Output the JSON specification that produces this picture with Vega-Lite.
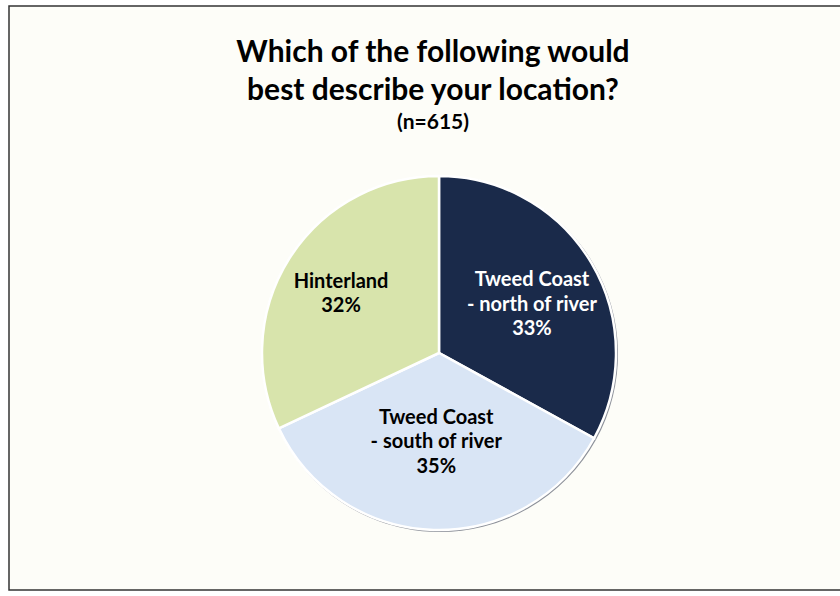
{
  "$schema": "https://vega.github.io/schema/vega-lite/v6.json",
  "width": 880,
  "height": 584,
  "autosize": {"type": "none"},
  "padding": {"left": 9, "top": 6, "right": 0, "bottom": 6},
  "background": "#ffffff",
  "view": {"stroke": "#333333", "strokeWidth": 1.5, "fill": "#fdfdf8"},
  "config": {
    "view": {"stroke": "#333333", "strokeWidth": 1.5, "fill": "#fdfdf8"},
    "font": "Lato"
  },
  "title": {
    "text": ["Which of the following would", "best describe your location?"],
    "subtitle": "(n=615)",
    "anchor": "middle",
    "dx": -16,
    "offset": -127,
    "font": "Lato",
    "fontSize": 30,
    "fontWeight": "bold",
    "lineHeight": 38,
    "color": "#000000",
    "subtitleFont": "Lato",
    "subtitleFontSize": 21,
    "subtitleFontWeight": "bold",
    "subtitleColor": "#000000",
    "subtitlePadding": 6
  },
  "data": {
    "values": [
      {"location": "Tweed Coast - north of river", "pct": 33, "rank": 1, "label": "Tweed Coast\n- north of river\n33%"},
      {"location": "Tweed Coast - south of river", "pct": 35, "rank": 2, "label": "Tweed Coast\n- south of river\n35%"},
      {"location": "Hinterland", "pct": 32, "rank": 3, "label": "Hinterland\n32%"}
    ]
  },
  "encoding": {
    "theta": {"field": "pct", "type": "quantitative", "stack": true},
    "order": {"field": "rank", "type": "quantitative"}
  },
  "layer": [
    {
      "mark": {"type": "arc", "radius": 178, "yOffset": 56, "xOffset": -9, "fill": "#8c9099", "stroke": null}
    },
    {
      "mark": {"type": "arc", "radius": 177, "yOffset": 55, "xOffset": -10, "stroke": "#ffffff", "strokeWidth": 2.5},
      "encoding": {
        "color": {
          "field": "location",
          "type": "nominal",
          "scale": {
            "domain": ["Tweed Coast - north of river", "Tweed Coast - south of river", "Hinterland"],
            "range": ["#1a2a4a", "#d9e5f5", "#d8e4ac"]
          },
          "legend": null
        }
      }
    },
    {
      "mark": {"type": "text", "radius": 108, "yOffset": 55, "xOffset": -10, "dy": -18, "lineBreak": "\n", "font": "Lato", "fontSize": 20, "fontWeight": "bold", "lineHeight": 24.5, "color": "#ffffff"},
      "encoding": {
        "text": {"condition": {"test": "datum.rank === 1", "field": "label"}, "value": ""}
      }
    },
    {
      "mark": {"type": "text", "radius": 88, "yOffset": 55, "xOffset": -10, "dy": -23, "lineBreak": "\n", "font": "Lato", "fontSize": 20, "fontWeight": "bold", "lineHeight": 24.5, "color": "#000000"},
      "encoding": {
        "text": {"condition": {"test": "datum.rank === 2", "field": "label"}, "value": ""}
      }
    },
    {
      "mark": {"type": "text", "radius": 116, "yOffset": 55, "xOffset": -10, "dy": -9, "lineBreak": "\n", "font": "Lato", "fontSize": 20, "fontWeight": "bold", "lineHeight": 24.5, "color": "#000000"},
      "encoding": {
        "text": {"condition": {"test": "datum.rank === 3", "field": "label"}, "value": ""}
      }
    }
  ]
}
